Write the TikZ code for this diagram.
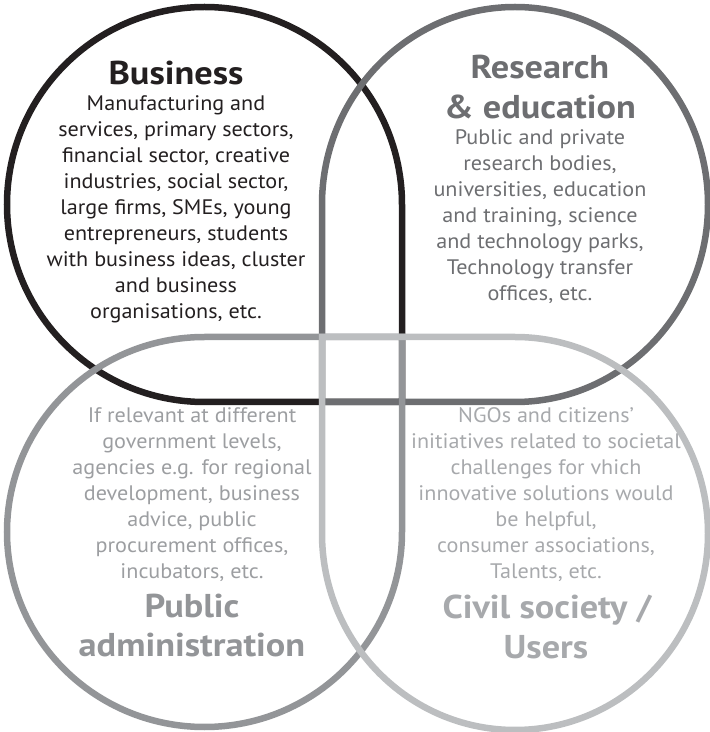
\documentclass[tikz,border=0pt]{standalone}
\usepackage{fontspec}
\setmainfont{PT Sans}[FakeStretch=1.1]
\newfontfamily\bodyfont{PT Sans}[FakeStretch=1.055]
\definecolor{busC}{HTML}{231F20}
\definecolor{resC}{HTML}{6D6E71}
\definecolor{pubC}{HTML}{939598}
\definecolor{pubT}{HTML}{9C9EA1}
\definecolor{civC}{HTML}{BCBEC0}
\definecolor{civT}{HTML}{A7A9AC}
\tikzset{
  ring/.style={line width=6.5pt, line join=miter},
  body/.style={anchor=base, inner sep=0pt, font=\bodyfont\fontsize{21}{24}\selectfont},
  ttl/.style={anchor=base, inner sep=0pt, font=\fontsize{33}{36}\selectfont\bfseries},
}
\begin{document}
\begin{tikzpicture}[x=1pt,y=1pt]
\useasboundingbox (0,0) rectangle (710,732);
% Business (square corner bottom-right)
\draw[ring, busC] (402,330) -- (204.5,330)
  arc[start angle=270, end angle=90, radius=197.5]
  arc[start angle=90, end angle=0, radius=197.5] -- cycle;
% Research (square corner bottom-left)
\draw[ring, resC] (322,330) -- (515,330)
  arc[start angle=-90, end angle=90, x radius=193, y radius=197.5]
  arc[start angle=90, end angle=180, x radius=193, y radius=197.5] -- cycle;
% Public administration (square corner top-right)
\draw[ring, pubC] (402,395) -- (204.5,395)
  arc[start angle=90, end angle=270, x radius=197.5, y radius=195]
  arc[start angle=270, end angle=360, x radius=197.5, y radius=195] -- cycle;
% Civil society (square corner top-left)
\draw[ring, civC] (322,395) -- (515,395)
  arc[start angle=90, end angle=-90, x radius=193, y radius=196.5]
  arc[start angle=270, end angle=180, x radius=193, y radius=196.5] -- cycle;

% Business text
\node[ttl, busC] (busT) at (176,{732-85}) {Business};
\foreach \t [count=\i from 0] in {{Manufacturing and},{services, primary sectors,},{financial sector, creative},{industries, social sector,},{large firms, SMEs, young},{entrepreneurs, students},{with business ideas, cluster},{and business},{organisations, etc.}}
  \node[body, busC] (bus\i) at (176,{732-111-25.9*\i}) {\t};

% Research text
\node[ttl, resC] (resT1) at (540,{732-79}) {Research};
\node[ttl, resC] (resT2) at (540,{732-119}) {\& education};
\foreach \t [count=\i from 0] in {{Public and private},{research bodies,},{universities, education},{and training, science},{and technology parks,},{Technology transfer},{offices, etc.}}
  \node[body, resC] (res\i) at (540,{732-145-26*\i}) {\t};

% Public administration text
\foreach \t [count=\i from 0] in {{If relevant at different},{government levels,},{agencies e.g. for regional},{development, business},{advice, public},{procurement offices,},{incubators, etc.}}
  \node[body, pubT] (pub\i) at (192,{732-422.5-26*\i}) {\t};
\node[ttl, pubC] (pubT1) at (192,{732-618}) {Public};
\node[ttl, pubC] (pubT2) at (192,{732-657}) {administration};

% Civil society text
\foreach \t [count=\i from 0] in {{NGOs and citizens’},{initiatives related to societal},{challenges for vhich},{innovative solutions would},{be helpful,},{consumer associations,},{Talents, etc.}}
  \node[body, civT] (civ\i) at (546,{732-423-26*\i}) {\t};
\node[ttl, civT] (civT1) at (547,{732-618.5}) {Civil society /};
\node[ttl, civT] (civT2) at (546,{732-658}) {Users};
\end{tikzpicture}
\end{document}
